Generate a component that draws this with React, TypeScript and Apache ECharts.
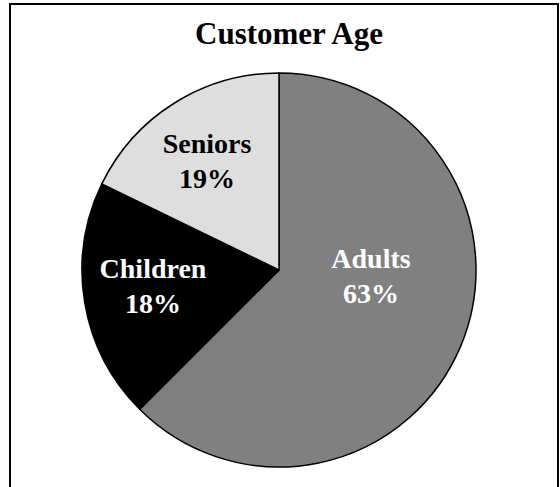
import React, { useEffect, useRef } from "react";
import * as echarts from "echarts";

const categories = ["Adults", "Children", "Seniors"];
// slice sizes as drawn in the picture (share of the circle, %)
const sliceValues = [62.5, 19.7, 17.8];
// percentages printed on the slices
const shownPercents = ["63%", "18%", "19%"];

const sliceColors = ["#808080", "#000000", "#dedede"];
const labelColors = ["#ffffff", "#ffffff", "#000000"];
const labelCenters: [number, number][] = [
  [371, 276],
  [153, 286],
  [207, 161],
];

export default function App() {
  const ref = useRef<HTMLDivElement>(null);
  useEffect(() => {
    if (!ref.current) return;
    const chart = echarts.init(ref.current, null, { renderer: "svg" });
    const font = '"Liberation Serif", "Times New Roman", serif';
    chart.setOption({
      animation: false,
      backgroundColor: "#ffffff",
      title: {
        text: "Customer Age",
        left: 284,
        top: 13,
        textAlign: "center",
        textStyle: {
          fontFamily: font,
          fontWeight: "bold",
          fontSize: 31,
          color: "#000",
        },
      },
      graphic: [
        {
          type: "rect",
          shape: { x: 10, y: 4, width: 548, height: 520 },
          style: { fill: "none", stroke: "#000", lineWidth: 2 },
          silent: true,
          z: 100,
        },
      ],
      series: [
        {
          type: "pie",
          center: [279, 270],
          radius: 197,
          startAngle: 90,
          clockwise: true,
          avoidLabelOverlap: false,
          itemStyle: { borderColor: "#000", borderWidth: 1.5 },
          emphasis: { disabled: true },
          label: {
            show: true,
            position: "inside",
            fontFamily: font,
            fontWeight: "bold",
            fontSize: 28,
            lineHeight: 35,
            align: "center",
            formatter: (p: any) => `${p.name}\n${shownPercents[p.dataIndex]}`,
          },
          labelLine: { show: false },
          labelLayout: (p: any) => ({
            x: labelCenters[p.dataIndex][0],
            y: labelCenters[p.dataIndex][1],
            align: "center",
            verticalAlign: "middle",
          }),
          data: categories.map((name, i) => ({
            name,
            value: sliceValues[i],
            itemStyle: { color: sliceColors[i] },
            label: { color: labelColors[i] },
          })),
        },
      ],
    });
    return () => chart.dispose();
  }, []);
  return (
    <div
      ref={ref}
      style={{ position: "absolute", left: 0, top: 0, width: 560, height: 487 }}
    />
  );
}
